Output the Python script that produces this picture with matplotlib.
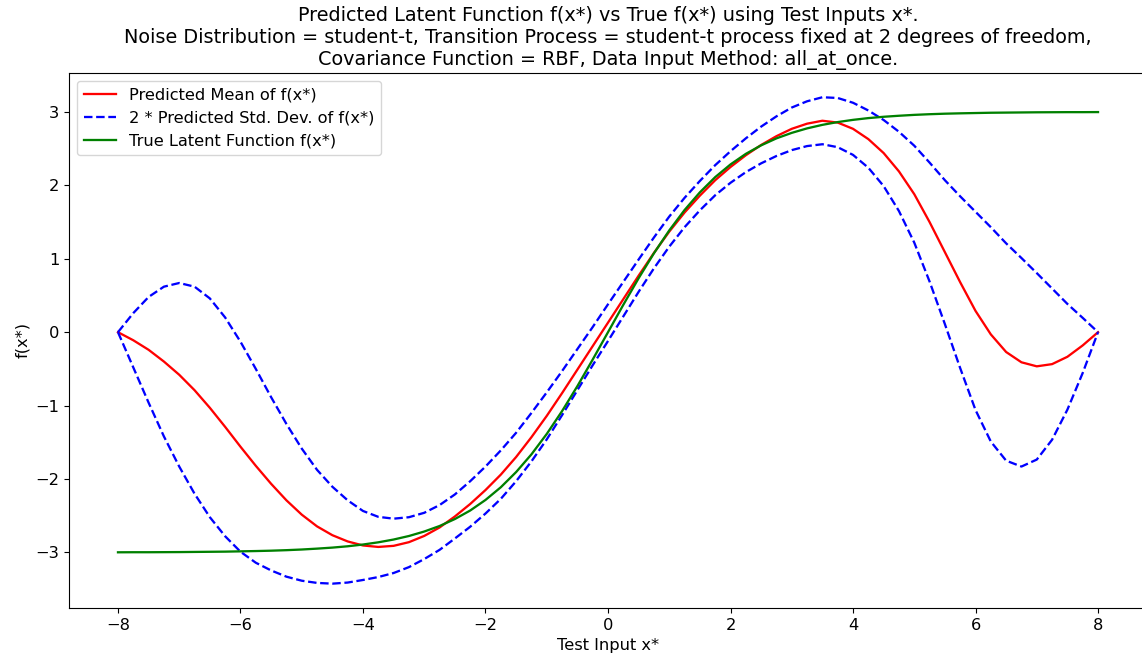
import matplotlib
matplotlib.use("Agg")
import matplotlib.pyplot as plt
import numpy as np

# ---------------------------------------------------------------
# data (test inputs every 0.25)
# ---------------------------------------------------------------
x_test = np.arange(-8.0, 8.01, 0.25)

pred_mean = [
    0.000, -0.110, -0.240, -0.400, -0.580, -0.790, -1.030, -1.290,
    -1.560, -1.820, -2.065, -2.290, -2.485, -2.645, -2.765, -2.850,
    -2.905, -2.925, -2.910, -2.860, -2.775, -2.660, -2.510, -2.340,
    -2.150, -1.940, -1.700, -1.430, -1.140, -0.830, -0.510, -0.190,
    0.130, 0.450, 0.770, 1.080, 1.370, 1.630, 1.860, 2.070,
    2.250, 2.410, 2.550, 2.670, 2.770, 2.840, 2.880, 2.855,
    2.770, 2.630, 2.440, 2.190, 1.880, 1.500, 1.090, 0.680,
    0.290, -0.030, -0.270, -0.410, -0.465, -0.435, -0.335, -0.180,
    0.000,
]

# 2 * predicted std. dev.
two_std = [
    0.000, 0.370, 0.720, 1.020, 1.250, 1.410, 1.490, 1.490,
    1.430, 1.320, 1.180, 1.040, 0.900, 0.770, 0.660, 0.560,
    0.470, 0.410, 0.370, 0.340, 0.315, 0.305, 0.300, 0.310,
    0.320, 0.330, 0.330, 0.330, 0.320, 0.300, 0.280, 0.260,
    0.250, 0.235, 0.220, 0.210, 0.205, 0.200, 0.200, 0.205,
    0.215, 0.230, 0.250, 0.270, 0.290, 0.305, 0.320, 0.335,
    0.355, 0.390, 0.450, 0.540, 0.660, 0.810, 0.980, 1.170,
    1.350, 1.460, 1.480, 1.420, 1.270, 1.030, 0.720, 0.375,
    0.000,
]

true_f = [
    -2.998, -2.997, -2.997, -2.996, -2.995, -2.993, -2.991, -2.989,
    -2.985, -2.981, -2.976, -2.969, -2.960, -2.948, -2.934, -2.916,
    -2.892, -2.862, -2.824, -2.776, -2.715, -2.640, -2.545, -2.429,
    -2.285, -2.112, -1.905, -1.664, -1.386, -1.075, -0.735, -0.373,
    0.000, 0.373, 0.735, 1.075, 1.386, 1.664, 1.905, 2.112,
    2.285, 2.429, 2.545, 2.640, 2.715, 2.776, 2.824, 2.862,
    2.892, 2.916, 2.934, 2.948, 2.960, 2.969, 2.976, 2.981,
    2.985, 2.989, 2.991, 2.993, 2.995, 2.996, 2.997, 2.997,
    2.998,
]

pred_mean = np.array(pred_mean)
two_std = np.array(two_std)

title = ("Predicted Latent Function f(x*) vs True f(x*) using Test Inputs x*.\n"
         "Noise Distribution = student-t, Transition Process = student-t process "
         "fixed at 2 degrees of freedom,\n"
         "Covariance Function = RBF, Data Input Method: all_at_once.")

# ---------------------------------------------------------------
# plot
# ---------------------------------------------------------------
plt.rcParams["font.size"] = 11.7
lw = 1.65

fig = plt.figure(figsize=(11.42, 6.63), dpi=100)
# right edge of the axes sits just past the figure border, like the original
ax = fig.add_axes([0.0604, 0.083, 0.944, 0.807])

ax.plot(x_test, pred_mean, "r", lw=lw, label="Predicted Mean of f(x*)")
ax.plot(x_test, pred_mean + two_std, "b--", lw=lw,
        label="2 * Predicted Std. Dev. of f(x*)")
ax.plot(x_test, pred_mean - two_std, "b--", lw=lw)
ax.plot(x_test, true_f, "g", lw=lw, label="True Latent Function f(x*)")

ax.set_xticks(np.arange(-8, 9, 2))
ax.set_yticks(np.arange(-3, 4, 1))
ax.set_xlabel("Test Input x*")
ax.set_ylabel("f(x*)")
ax.set_title(title, fontsize=13.9)
ax.legend(loc="upper left")

fig.savefig("out.png", dpi=100)
